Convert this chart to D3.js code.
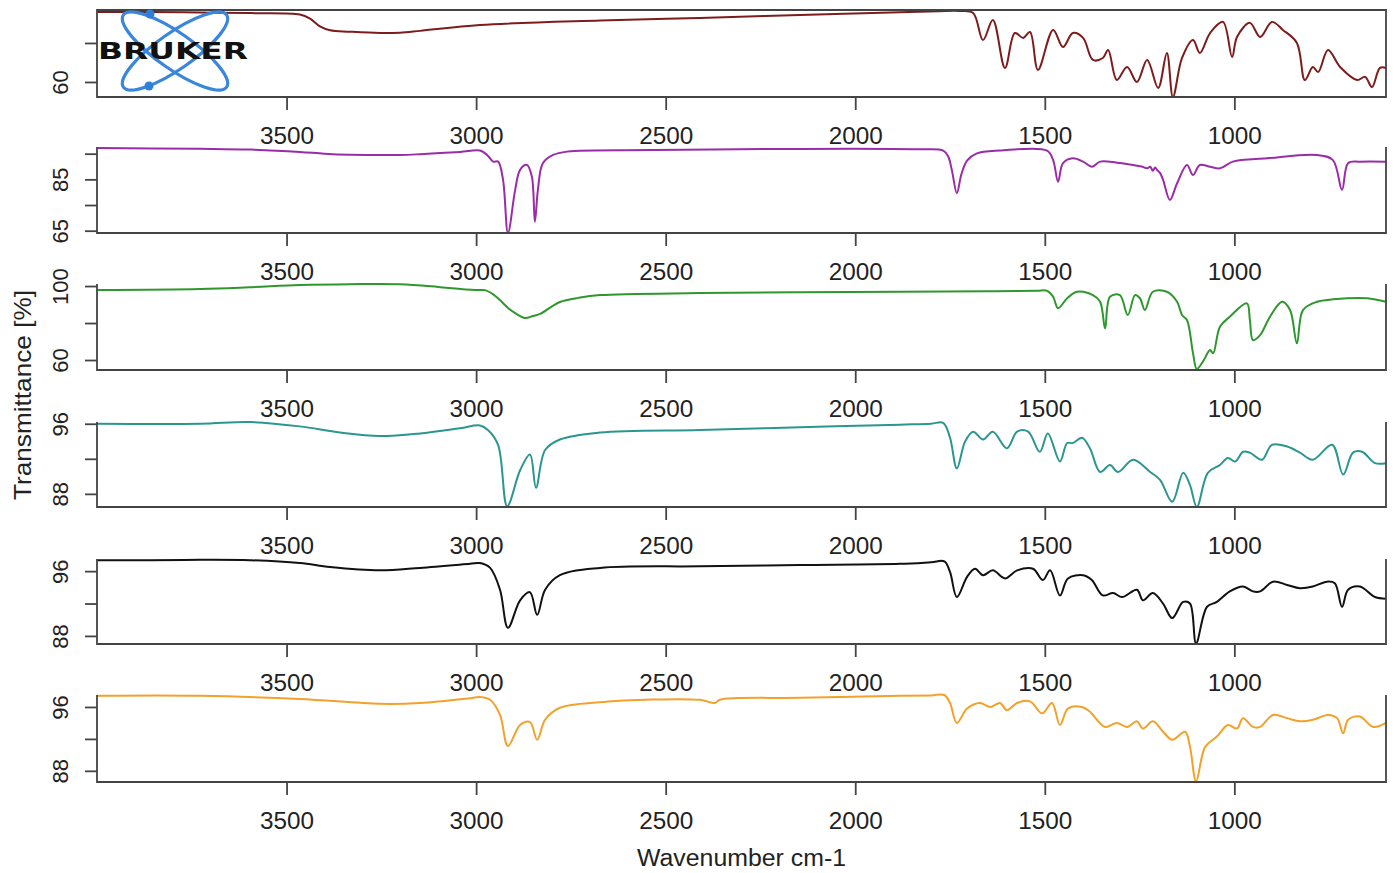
<!DOCTYPE html>
<html>
<head>
<meta charset="UTF-8" />
<script src="https://cdn.jsdelivr.net/npm/d3@7"></script>
<title>FTIR spectra</title>
<style>
body { margin: 0; background: white; }
</style>
</head>
<body>
<div id="chart"></div>
<script>
// x axis ticks (wavenumber, cm-1)
const wnTicks = [3500, 3000, 2500, 2000, 1500, 1000];

// spectra as [wavenumber, transmittance %]
const specA = [[4000,95.9],[3860,95.9],[3728,95.6],[3596,95.3],[3465,94.6],[3438,92.5],[3412,88.5],[3385,86.5],[3333,85.8],[3254,85.1],[3201,85.3],[3148,86.2],[2990,89.2],[2673,91.5],[2410,92.8],[2146,94.4],[1882,95.8],[1780,96.3],[1724,96.4],[1689,95.4],[1663,81.5],[1637,91.8],[1605,67.2],[1579,85.1],[1557,82.6],[1539,85.6],[1518,66.2],[1478,86.7],[1452,77.9],[1426,85.1],[1399,82.6],[1373,71.3],[1347,72.3],[1333,76.4],[1310,61.0],[1283,67.7],[1257,60.0],[1230,71.3],[1201,56.9],[1178,74.9],[1162,52.3],[1138,72.3],[1109,81.5],[1091,74.9],[1064,85.1],[1030,90.8],[1006,72.8],[993,83.1],[959,90.3],[932,83.1],[901,90.8],[872,86.7],[835,80.0],[814,61.0],[793,67.7],[779,65.1],[753,76.4],[721,67.7],[676,61.0],[655,62.6],[637,57.4],[616,67.2],[600,67.2]];
const specB = [[4000,97.2],[3728,96.9],[3596,96.6],[3465,95.7],[3400,95.0],[3333,94.6],[3201,94.5],[3148,94.8],[3042,95.7],[2990,96.2],[2971,94.5],[2955,91.9],[2942,91.9],[2929,84.8],[2916,64.1],[2897,80.9],[2884,88.7],[2866,90.6],[2853,86.1],[2845,68.5],[2837,80.9],[2824,91.3],[2797,94.5],[2760,95.8],[2533,96.4],[1829,96.7],[1768,96.2],[1755,94.0],[1745,88.5],[1732,79.6],[1720,87.0],[1705,92.3],[1679,95.1],[1618,96.2],[1494,96.2],[1478,92.5],[1465,84.1],[1452,91.3],[1426,93.2],[1399,91.9],[1376,89.9],[1354,91.9],[1310,91.5],[1267,90.6],[1245,90.0],[1230,89.3],[1222,89.9],[1215,88.3],[1209,89.6],[1204,88.7],[1196,87.5],[1188,84.8],[1170,77.0],[1151,83.5],[1125,90.6],[1109,86.7],[1091,90.6],[1064,89.9],[1038,89.3],[1004,91.9],[914,93.2],[782,94.5],[740,92.5],[716,80.9],[700,91.3],[669,91.9],[600,91.9]];
const specC = [[4000,97.8],[3728,98.4],[3600,99.3],[3465,100.5],[3333,101.0],[3201,101.0],[3100,99.5],[3042,98.4],[2990,97.8],[2977,97.8],[2955,95.5],[2937,92.4],[2915,88.0],[2897,85.4],[2871,82.7],[2850,83.8],[2831,84.9],[2800,89.0],[2779,91.4],[2730,93.6],[2673,95.1],[2410,96.2],[1882,96.9],[1650,97.2],[1520,97.5],[1494,97.4],[1478,94.2],[1465,88.0],[1441,93.4],[1415,96.9],[1373,95.1],[1354,91.5],[1341,77.1],[1328,94.2],[1302,95.1],[1281,84.3],[1262,95.1],[1249,93.4],[1236,87.0],[1215,96.9],[1178,96.9],[1151,91.5],[1138,84.3],[1125,81.6],[1109,63.6],[1099,55.2],[1083,59.1],[1064,65.4],[1056,63.6],[1038,78.0],[1012,83.4],[967,90.6],[959,81.6],[951,70.8],[932,73.5],[906,83.4],[874,91.5],[853,87.0],[835,69.0],[819,87.0],[782,91.5],[740,92.8],[650,93.4],[600,91.5]];
const specD = [[4000,96.0],[3728,96.0],[3596,96.2],[3465,95.7],[3359,95.0],[3254,94.6],[3148,94.9],[3042,95.5],[2990,95.8],[2969,95.3],[2942,93.6],[2918,86.6],[2884,90.7],[2858,92.5],[2842,88.7],[2818,93.0],[2779,94.2],[2673,95.0],[2410,95.3],[2146,95.6],[1882,95.9],[1800,96.0],[1768,96.1],[1750,94.4],[1732,90.9],[1710,94.0],[1689,95.1],[1663,94.2],[1637,95.1],[1600,93.2],[1573,95.1],[1544,95.1],[1513,92.8],[1492,94.9],[1460,91.7],[1441,93.8],[1426,93.8],[1402,94.4],[1381,93.2],[1354,90.5],[1328,91.3],[1307,90.5],[1267,91.9],[1222,90.5],[1196,89.6],[1164,87.1],[1135,90.4],[1117,89.0],[1099,86.5],[1070,90.4],[1038,91.3],[1017,92.1],[998,91.7],[977,92.8],[959,92.7],[927,91.9],[901,93.6],[861,93.4],[827,92.7],[793,91.9],[742,93.6],[713,90.2],[687,92.7],[663,92.8],[629,91.5],[600,91.5]];
const specE = [[4000,97.35],[3860,97.35],[3728,97.4],[3596,97.35],[3465,97.0],[3385,96.5],[3254,96.1],[3148,96.4],[3016,96.9],[2990,97.0],[2963,96.4],[2937,93.7],[2916,89.0],[2884,92.4],[2858,93.4],[2839,90.6],[2818,93.7],[2779,95.5],[2673,96.4],[2410,96.6],[2146,96.75],[1882,96.9],[1800,97.1],[1765,97.2],[1750,95.9],[1732,92.8],[1705,95.3],[1684,96.3],[1663,95.5],[1637,96.1],[1605,95.1],[1573,96.1],[1531,96.3],[1505,94.9],[1486,96.1],[1460,93.0],[1439,95.1],[1399,95.5],[1376,94.9],[1347,93.0],[1320,93.3],[1296,92.8],[1257,93.7],[1241,92.4],[1215,93.3],[1188,92.0],[1164,90.2],[1135,92.2],[1117,92.0],[1101,87.1],[1072,91.6],[1046,92.2],[1012,93.5],[977,94.1],[951,93.5],[932,93.5],[898,94.7],[861,94.3],[827,93.9],[793,94.1],[756,94.7],[735,94.5],[716,91.6],[700,93.7],[669,94.1],[629,92.8],[600,92.6]];
const specF = [[4000,97.4],[3728,97.4],[3465,97.0],[3254,96.4],[3148,96.5],[3016,97.1],[2990,97.25],[2963,96.9],[2937,95.0],[2916,91.1],[2884,93.75],[2858,94.1],[2839,91.9],[2818,94.4],[2779,95.9],[2673,96.6],[2410,96.9],[2370,96.5],[2357,96.9],[2146,97.15],[1882,97.4],[1800,97.45],[1765,97.5],[1750,96.5],[1732,94.0],[1705,95.8],[1671,96.5],[1644,96.0],[1618,96.5],[1600,95.6],[1573,96.5],[1539,96.7],[1507,95.2],[1481,96.5],[1460,93.75],[1439,95.8],[1402,96.0],[1381,95.4],[1341,93.5],[1310,94.0],[1283,93.5],[1257,94.2],[1241,93.3],[1215,94.2],[1188,92.9],[1164,91.9],[1130,92.9],[1117,91.0],[1101,86.7],[1077,91.0],[1046,92.3],[1017,93.75],[993,93.3],[977,94.6],[951,93.5],[932,93.5],[898,95.0],[861,94.6],[827,94.2],[793,94.4],[753,95.0],[729,94.6],[713,92.7],[700,94.4],[669,94.8],[634,93.5],[600,94.0]];

// y ticks per panel, and which of them carry a label
const yTicksA = [60, 80], yLabA = [60];
const yTicksB = [65, 75, 85, 95], yLabB = [65, 85];
const yTicksC = [60, 80, 100], yLabC = [60, 100];
const yTicksD = [88, 92, 96], yLabD = [88, 96];

const W = 1395, H = 873, left = 97, right = 1386;
const panels = [
    {data: specA, ticks: yTicksA, labels: yLabA, domain: [52.3, 96.9], top: 10, bottom: 97, color: "#7d1c1c", box: true},
    {data: specB, ticks: yTicksB, labels: yLabB, domain: [64.1, 97.6], top: 147, bottom: 233, color: "#9a2ca8"},
    {data: specC, ticks: yTicksC, labels: yLabC, domain: [54.6, 101.1], top: 284, bottom: 370, color: "#2e972e"},
    {data: specD, ticks: yTicksD, labels: yLabD, domain: [86.5, 96.2], top: 422, bottom: 507, color: "#2b9690"},
    {data: specE, ticks: yTicksD, labels: yLabD, domain: [87.0, 97.5], top: 559, bottom: 644, color: "#111111"},
    {data: specF, ticks: yTicksD, labels: yLabD, domain: [86.6, 97.5], top: 695, bottom: 782, color: "#f2a12a"}
];
const axisColor = "#444";
const font = "'Liberation Sans', Arial, sans-serif";

const x = d3.scaleLinear().domain([4000, 600]).range([left, right]);
const svg = d3.select("#chart").append("svg")
    .attr("width", W).attr("height", H)
    .style("font-family", font);

panels.forEach(p => {
    const y = d3.scaleLinear().domain(p.domain).range([p.bottom, p.top]);
    const g = svg.append("g");
    const line = d3.line().x(d => x(d[0])).y(d => y(d[1])).curve(d3.curveCatmullRom.alpha(0.5));
    g.append("path").datum(p.data)
        .attr("fill", "none").attr("stroke", p.color)
        .attr("stroke-width", 2).attr("stroke-linejoin", "round")
        .attr("d", line);

    // frame: full box on the first panel, open top on the others
    const frame = p.box
        ? `M${left},${p.top}H${right}V${p.bottom}H${left}Z`
        : `M${left},${p.top}V${p.bottom}H${right}V${p.top}`;
    g.append("path").attr("d", frame).attr("fill", "none")
        .attr("stroke", axisColor).attr("stroke-width", 1.8);

    const xa = g.append("g").attr("transform", "translate(0," + p.bottom + ")")
        .call(d3.axisBottom(x).tickValues(wnTicks).tickSize(13).tickFormat(d3.format("d")));
    xa.select(".domain").remove();
    xa.selectAll("line").attr("stroke", axisColor).attr("stroke-width", 1.8);
    xa.selectAll("text")
        .attr("y", 47).attr("dy", 0)
        .attr("fill", "#222").attr("font-size", 23)
        .attr("textLength", 54).attr("lengthAdjust", "spacingAndGlyphs");
    xa.attr("font-size", null).attr("font-family", null);

    const ya = g.append("g").attr("transform", "translate(" + left + ",0)")
        .call(d3.axisLeft(y).tickValues(p.ticks).tickSize(12)
            .tickFormat(v => p.labels.includes(v) ? String(v) : ""));
    ya.select(".domain").remove();
    ya.selectAll("line").attr("stroke", axisColor).attr("stroke-width", 1.8);
    ya.selectAll("text")
        .attr("x", 0).attr("dy", 0)
        .attr("text-anchor", "middle")
        .attr("transform", "translate(-29,0) rotate(-90)")
        .attr("fill", "#222").attr("font-size", 22);
    ya.attr("font-size", null).attr("font-family", null);
});

svg.append("text")
    .attr("transform", "translate(31,395) rotate(-90)")
    .attr("text-anchor", "middle").attr("font-size", 24).attr("fill", "#222")
    .attr("textLength", 210).attr("lengthAdjust", "spacingAndGlyphs")
    .text("Transmittance [%]");

svg.append("text")
    .attr("x", (left + right) / 2).attr("y", 866)
    .attr("text-anchor", "middle").attr("font-size", 23).attr("fill", "#222")
    .attr("textLength", 209).attr("lengthAdjust", "spacingAndGlyphs")
    .text("Wavenumber cm-1");

// Bruker logo
const logo = svg.append("g").attr("transform", "translate(175,51)");
[35, -35].forEach(a => {
    logo.append("ellipse").attr("rx", 63).attr("ry", 18)
        .attr("transform", "rotate(" + a + ")")
        .attr("fill", "none").attr("stroke", "#3a86dc").attr("stroke-width", 3.2);
});
logo.append("circle").attr("cx", -25).attr("cy", -37).attr("r", 4.5).attr("fill", "#2f7fd8");
logo.append("circle").attr("cx", -26).attr("cy", 35).attr("r", 4.5).attr("fill", "#2f7fd8");
logo.append("text").attr("x", -77).attr("y", 8)
    .attr("font-family", "'DejaVu Sans', sans-serif").attr("font-weight", "bold")
    .attr("font-size", 23).attr("fill", "#111")
    .attr("textLength", 150).attr("lengthAdjust", "spacingAndGlyphs")
    .text("BRUKER");
</script>
</body>
</html>
